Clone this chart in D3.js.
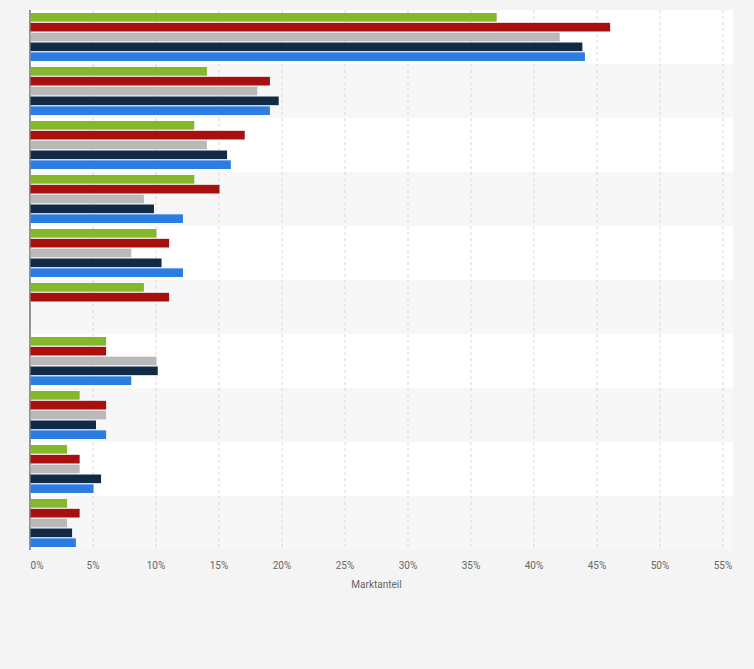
<!DOCTYPE html><html><head><meta charset="utf-8"><script src="https://cdn.jsdelivr.net/npm/d3@7"></script>
<style>body{margin:0;background:#f4f4f4;font-family:Roboto,Arial,sans-serif}</style></head><body><svg id="c" width="754" height="669"></svg><script>
const categories=["A","B","C","D","E","F","G","H","I","J"];
const seriesNames=["S1","S2","S3","S4","S5"];
const colors=["#84b82b","#a80f0f","#b9b9b9","#112a45","#2b7de1"];
const s1=[37,14,13,13,10,9,6,3.9,2.9,2.9];
const s2=[46,19,17,15,11,11,6,6,3.9,3.9];
const s3=[42,18,14,9,8,null,10,6,3.9,2.9];
const s4=[43.8,19.7,15.6,9.8,10.4,null,10.1,5.2,5.6,3.3];
const s5=[44,19,15.9,12.1,12.1,null,8,6,5,3.6];
const ticks=[0,5,10,15,20,25,30,35,40,45,50,55];
const series=[s1,s2,s3,s4,s5];
const svg=d3.select("#c");
const L=30,R=723,T=10,B=550;
const x=d3.scaleLinear().domain([0,55]).range([L,R]);
const y=d3.scaleBand().domain(categories).range([T,B]);
const y2=d3.scaleBand().domain(seriesNames).range([3,y.bandwidth()-3]).paddingInner(0.12);
svg.append("rect").attr("x",L).attr("y",T).attr("width",R-L+10).attr("height",B-T).attr("fill","#fff");
svg.selectAll(".band").data(categories).join("rect").attr("x",L).attr("width",R-L+10)
 .attr("y",d=>y(d)).attr("height",y.bandwidth()).attr("fill",(d,i)=>i%2?"#f7f7f7":"#fff");
svg.selectAll(".grid").data(ticks.slice(1)).join("line").attr("x1",d=>x(d)).attr("x2",d=>x(d))
 .attr("y1",T).attr("y2",B).attr("stroke","#d8d8d8").attr("stroke-dasharray","3,3");
svg.append("line").attr("x1",L).attr("x2",L).attr("y1",T).attr("y2",B).attr("stroke","#333");
series.forEach((s,k)=>{
 svg.selectAll(".b"+k).data(categories.map((c,i)=>({c,v:s[i]})).filter(d=>d.v!=null)).join("rect")
  .attr("x",L+0.5).attr("y",d=>y(d.c)+y2(seriesNames[k])).attr("height",y2.bandwidth())
  .attr("width",d=>x(d.v)-L).attr("fill",colors[k]);
});
svg.selectAll(".tl").data(ticks).join("text").attr("x",d=>x(d)+(d==0?7:0)).attr("y",569).attr("text-anchor","middle")
 .attr("font-size",10).attr("fill","#666").text(d=>d+"%");
svg.append("text").attr("x",(L+R)/2).attr("y",588).attr("text-anchor","middle").attr("font-size",10).attr("fill","#666").text("Marktanteil");
</script></body></html>
